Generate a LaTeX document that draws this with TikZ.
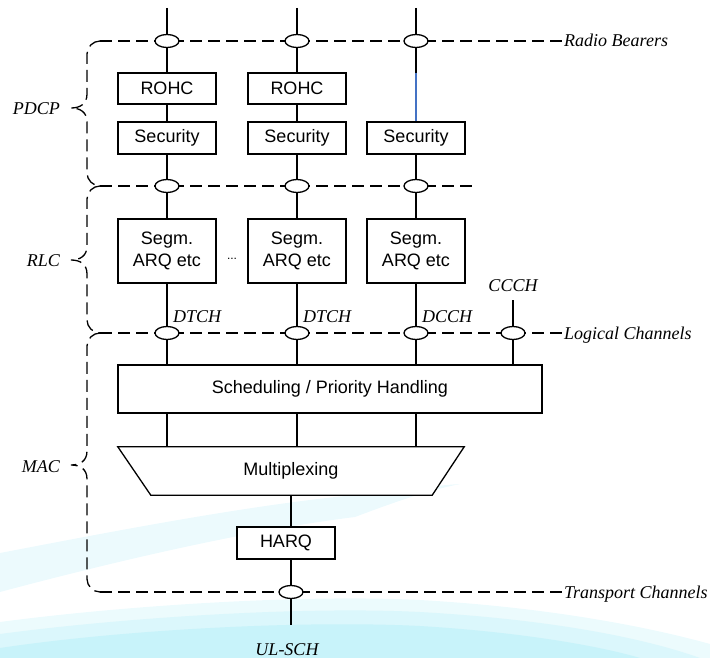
\documentclass[tikz,border=0pt]{standalone}
\usepackage{fontspec}
\setmainfont{Liberation Serif}
\newfontfamily\arialfont{Liberation Sans}
\usetikzlibrary{calc,backgrounds,shapes.geometric}

\definecolor{bgcyan}{RGB}{200,243,250}
\definecolor{bgpale}{RGB}{236,250,253}
\definecolor{linkblue}{RGB}{68,114,196}

\tikzset{
  block/.style={draw, line width=1.3pt, fill=white, inner sep=0pt,
    minimum width=98pt, align=center,
    font=\arialfont\fontsize{18}{22}\selectfont},
  sap/.style={draw, ellipse, line width=1.3pt, fill=white, inner sep=0pt,
    minimum width=24pt, minimum height=13pt},
  chan/.style={line width=1.3pt, dash pattern=on 12pt off 6pt},
  link/.style={line width=1.3pt},
  lbl/.style={inner sep=0pt, font=\itshape\fontsize{18}{21}\selectfont},
}

% dashed layer brace: top y, tip y, bottom y
\newcommand{\layerbrace}[3]{%
  \draw[chan] (100,#1) .. controls (93,#1) and (87,#1+6) .. (87,#1+13)
    -- (87,#2-14) .. controls (87,#2-4) and (80,#2) .. (71,#2)
    .. controls (80,#2) and (87,#2+4) .. (87,#2+14)
    -- (87,#3-13) .. controls (87,#3-6) and (93,#3) .. (100,#3);}

\begin{document}
\begin{tikzpicture}[x=1pt,y=-1pt]
\useasboundingbox (0,0) rectangle (710,658);

% protocol blocks
\node[block, minimum height=31pt] (rohc1) at (167,88.5) {ROHC};
\node[block, minimum height=31pt] (rohc2) at (297,88.5) {ROHC};
\node[block, minimum height=32pt] (sec1) at (167,138) {Security};
\node[block, minimum height=32pt] (sec2) at (297,138) {Security};
\node[block, minimum height=32pt] (sec3) at (416,138) {Security};
\node[block, minimum height=64pt] (segm1) at (167,251) {Segm.\\ARQ etc};
\node[block, minimum height=64pt] (segm2) at (297,251) {Segm.\\ARQ etc};
\node[block, minimum height=64pt] (segm3) at (416,251) {Segm.\\ARQ etc};
\node[font=\arialfont\fontsize{12}{14}\selectfont, inner sep=0pt, anchor=base]
  (dots) at (232,259) {...};
\node[block, minimum width=424pt, minimum height=48pt] (sched) at (330,389)
  {Scheduling / Priority Handling};
\node[inner sep=0pt, minimum width=346pt, minimum height=48pt,
  font=\arialfont\fontsize{18}{22}\selectfont] (mux) at (291,471) {Multiplexing};
\node[block, minimum height=32pt] (harq) at (286,543) {HARQ};

% service access points
\node[sap] (rb1) at (167,41) {};
\node[sap] (rb2) at (297,41) {};
\node[sap] (rb3) at (416,41) {};
\node[sap] (pr1) at (167,186) {};
\node[sap] (pr2) at (297,186) {};
\node[sap] (pr3) at (416,186) {};
\node[sap] (lc1) at (167,333) {};
\node[sap] (lc2) at (297,333) {};
\node[sap] (lc3) at (416,333) {};
\node[sap] (lc4) at (513,333) {};
\node[sap] (tc) at (291,592) {};

% labels
\node[lbl, anchor=base west] (rblbl) at (564,47) {Radio Bearers};
\node[lbl, anchor=base west] (lclbl) at (564,339) {Logical Channels};
\node[lbl, anchor=base west] (tclbl) at (564,598) {Transport Channels};
\node[lbl, anchor=base east] (pdcp) at (60,115) {PDCP};
\node[lbl, anchor=base east] (rlc) at (60,266) {RLC};
\node[lbl, anchor=base east] (mac) at (60,472) {MAC};
\node[lbl, anchor=base west] (dtch1) at (173,322) {DTCH};
\node[lbl, anchor=base west] (dtch2) at (303,322) {DTCH};
\node[lbl, anchor=base west] (dcch) at (422,322) {DCCH};
\node[lbl, anchor=base] (ccch) at (513,291) {CCCH};
\node[lbl, anchor=base] (ulschlbl) at (287,655) {UL-SCH};

\coordinate (top1) at (167,8);
\coordinate (top2) at (297,8);
\coordinate (top3) at (416,8);
\coordinate (c3mid) at (416,73);
\coordinate (ccchtop) at (513,300);
\coordinate (ulsch) at (291,625);
\coordinate (pdcptop) at (100,41);
\coordinate (pdcpbot) at (100,186);
\coordinate (prend) at (475,186);
\coordinate (rlcbot) at (100,333);
\coordinate (macbot) at (100,592);

\begin{pgfonlayer}{background}
  % soft backdrop bands
  \fill[bgpale] (0,553) .. controls (120,530) and (250,505) .. (355,495)
    .. controls (400,490) and (430,486) .. (460,484)
    .. controls (430,490) and (400,500) .. (355,517)
    .. controls (250,530) and (120,560) .. (0,592) -- cycle;
  \fill[bgcyan!35] (0,622) .. controls (120,606) and (300,594) .. (420,600)
    .. controls (560,608) and (660,630) .. (710,644) -- (710,658) -- (0,658) -- cycle;
  \fill[bgcyan!65] (0,634) .. controls (120,618) and (300,606) .. (420,612)
    .. controls (560,620) and (650,640) .. (700,658) -- (0,658) -- cycle;
  \fill[bgcyan] (0,648) .. controls (120,630) and (300,620) .. (420,626)
    .. controls (520,632) and (600,646) .. (640,658) -- (0,658) -- cycle;

  % multiplexing trapezium
  \draw[link, fill=white] (mux.north west) -- (mux.north east)
    -- ($(mux.south east)+(-32,0)$) -- ($(mux.south west)+(33,0)$) -- cycle;

  % layer braces and channel boundaries
  \layerbrace{41}{108}{186}
  \layerbrace{186}{260}{333}
  \layerbrace{333}{465}{592}
  \draw[chan] (pdcptop) -- (rb1 -| rblbl.west);
  \draw[chan] (pdcpbot) -- (prend);
  \draw[chan] (rlcbot) -- (lc1 -| lclbl.west);
  \draw[chan] (macbot) -- (tc -| tclbl.west);

  % bearer paths
  \draw[link] (top1) -- (rohc1.north);
  \draw[link] (rohc1.south) -- (sec1.north);
  \draw[link] (sec1.south) -- (segm1.north);
  \draw[link] (segm1.south) -- (segm1.south |- sched.north);
  \draw[link] (segm1.south |- sched.south) -- (segm1.south |- mux.north);
  \draw[link] (top2) -- (rohc2.north);
  \draw[link] (rohc2.south) -- (sec2.north);
  \draw[link] (sec2.south) -- (segm2.north);
  \draw[link] (segm2.south) -- (segm2.south |- sched.north);
  \draw[link] (segm2.south |- sched.south) -- (segm2.south |- mux.north);
  \draw[link] (top3) -- (c3mid);
  \draw[link, draw=linkblue] (c3mid) -- (sec3.north);
  \draw[link] (sec3.south) -- (segm3.north);
  \draw[link] (segm3.south) -- (segm3.south |- sched.north);
  \draw[link] (segm3.south |- sched.south) -- (segm3.south |- mux.north);
  \draw[link] (ccchtop) -- (ccchtop |- sched.north);
  \draw[link] (ulsch |- mux.south) -- (ulsch |- harq.north);
  \draw[link] (ulsch |- harq.south) -- (ulsch);
\end{pgfonlayer}
\end{tikzpicture}
\end{document}
